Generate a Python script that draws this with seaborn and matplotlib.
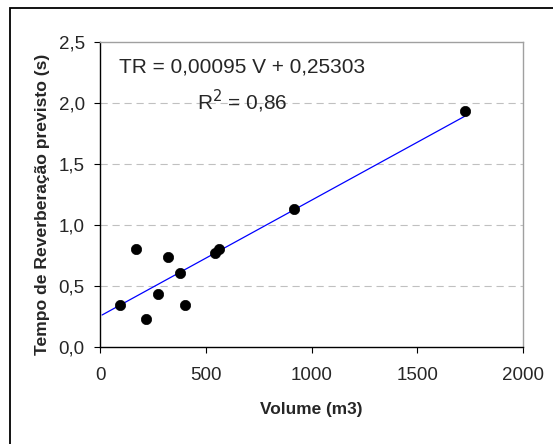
"""Tempo de reverberação previsto vs volume"""

import matplotlib
matplotlib.use("Agg")
import matplotlib.pyplot as plt
import pandas as pd
import seaborn as sns
from matplotlib.patches import Rectangle

# data
volume = [95, 170, 218, 273, 321, 376, 403, 546, 561, 916, 1725]
tempo = [0.345, 0.80, 0.233, 0.438, 0.734, 0.605, 0.348, 0.77, 0.805, 1.134, 1.936]
slope = 0.00095
intercept = 0.25303
line_x = [10, 1725]
x_ticks = [0, 500, 1000, 1500, 2000]
y_ticks = [0.0, 0.5, 1.0, 1.5, 2.0, 2.5]
y_tick_labels = ["0,0", "0,5", "1,0", "1,5", "2,0", "2,5"]

sns.set_style("white")
plt.rcParams['font.family'] = ["Liberation Sans", "DejaVu Sans"]

df = pd.DataFrame({'Volume': volume, 'TR': tempo})
fit = pd.DataFrame({'Volume': line_x, 'TR': [slope * v + intercept for v in line_x]})

fig = plt.figure(figsize=(5.53, 4.44), dpi=100)
ax = fig.add_axes([100 / 553, 1 - 347 / 444, 423 / 553, 305 / 444])

# outer frame (only top and left visible in the crop)
fig.patches.append(Rectangle((10 / 553, -0.1), 1.2, 1 - 8.5 / 444 + 0.1, transform=fig.transFigure,
                             fill=False, edgecolor='black', linewidth=1.3, zorder=0))

for y in y_ticks[1:-1]:
    ax.axhline(y, color='#c0c0c0', linewidth=0.8, dashes=(6.5, 4.3), zorder=0)

sns.lineplot(data=fit, x='Volume', y='TR', ax=ax, color='#0000ff', linewidth=0.9, zorder=2)
sns.scatterplot(data=df, x='Volume', y='TR', ax=ax, color='black', s=55, edgecolor='black', linewidth=0.5, zorder=3)

ax.set_xlim(0, 2000)
ax.set_ylim(0, 2.5)
ax.set_xticks(x_ticks)
ax.set_xticklabels([str(t) for t in x_ticks])
ax.set_yticks(y_ticks)
ax.set_yticklabels(y_tick_labels)
ax.tick_params(axis='both', which='both', direction='out', length=4.5, width=0.8, color='black',
               labelsize=13.5, bottom=True, left=True)
ax.tick_params(axis='y', pad=6.5)
ax.tick_params(axis='x', pad=10)

for side in ['left', 'bottom']:
    ax.spines[side].set_color('black')
    ax.spines[side].set_linewidth(1.0)
for side in ['top', 'right']:
    ax.spines[side].set_color('#a0a0a0')
    ax.spines[side].set_linewidth(1.0)

ax.set_xlabel('Volume (m3)', fontsize=12.4, fontweight='bold')
ax.set_ylabel('Tempo de Reverberação previsto (s)', fontsize=12.6, fontweight='bold')
ax.xaxis.set_label_coords(0.5, -0.18)
ax.yaxis.set_label_coords(-0.118, 0.466)

ax.text(670, 2.297, 'TR = 0,00095 V + 0,25303', ha='center', va='center', fontsize=15)
ax.text(675, 2.01, r'R$^2$ = 0,86', ha='center', va='center', fontsize=15)

fig.savefig('out.png', dpi=100)
